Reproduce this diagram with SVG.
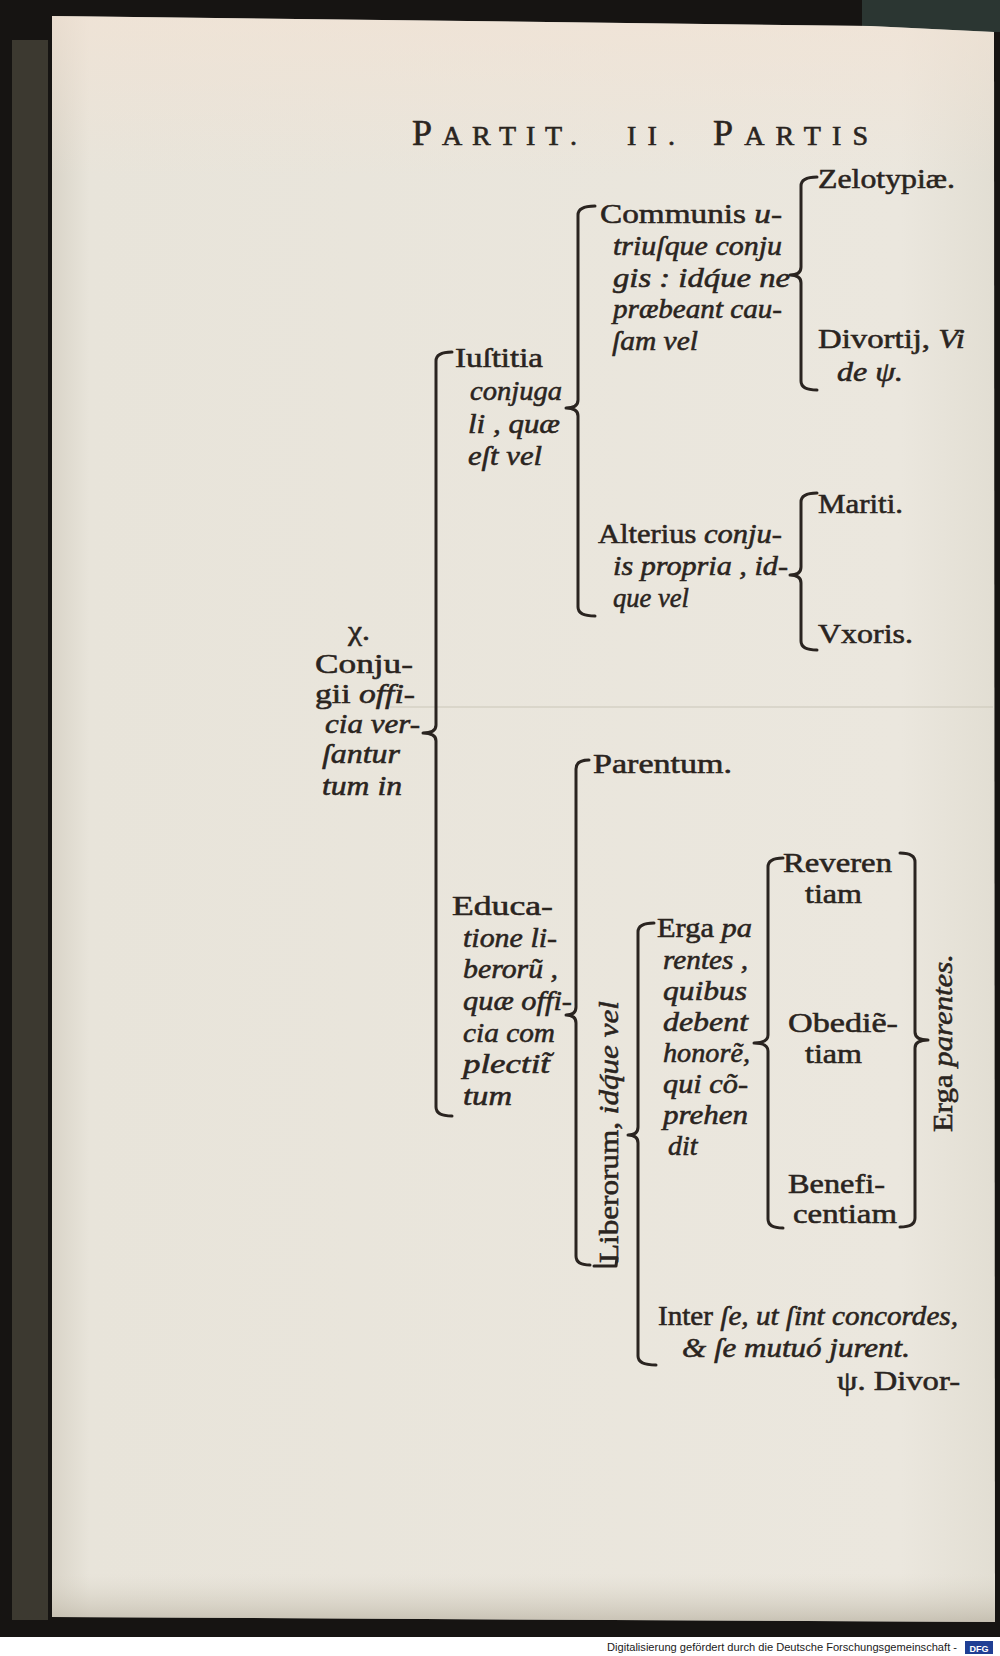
<svg xmlns="http://www.w3.org/2000/svg" width="1000" height="1656" viewBox="0 0 1000 1656">
<defs>
<style>
.t{font-family:"Liberation Serif",serif;font-size:28px;fill:#2a2420;stroke:#2a2420;stroke-width:0.55px}
.it{font-style:italic}
.ttl{font-family:"Liberation Serif",serif;font-size:28px;fill:#2a2420;stroke:#2a2420;stroke-width:0.6px}
.br{fill:none;stroke:#2a2420;stroke-width:3;stroke-linecap:round;stroke-linejoin:round}
.cap{font-family:"Liberation Sans",sans-serif;font-size:10.5px;fill:#1a1a1a}
</style>
<linearGradient id="pg" x1="0" y1="0" x2="1" y2="0">
<stop offset="0" stop-color="#d9d4c8"/>
<stop offset="0.04" stop-color="#e8e4da"/>
<stop offset="0.9" stop-color="#ebe7de"/>
<stop offset="1" stop-color="#e2ded3"/>
</linearGradient>
<linearGradient id="pgv" x1="0" y1="0" x2="0" y2="1">
<stop offset="0" stop-color="#f3e2d3" stop-opacity="0.6"/>
<stop offset="0.1" stop-color="#f3e2d3" stop-opacity="0"/>
<stop offset="0.97" stop-color="#d8d2c4" stop-opacity="0"/>
<stop offset="1" stop-color="#b9b2a2" stop-opacity="0.7"/>
</linearGradient>
</defs>

<!-- background / scan surroundings -->
<rect x="0" y="0" width="1000" height="1656" fill="#161412"/>
<rect x="12" y="40" width="36" height="1580" fill="#4a463b" opacity="0.75"/>
<rect x="862" y="0" width="138" height="32" fill="#2b3632"/>
<polygon points="52,16 870,26 994,32 995,1622 52,1617" fill="url(#pg)"/>
<polygon points="52,16 870,26 994,32 995,1622 52,1617" fill="url(#pgv)"/>
<line x1="390" y1="707" x2="993" y2="707" stroke="#cdc8bb" stroke-width="1.5" opacity="0.7"/>
<rect x="0" y="1637" width="1000" height="19" fill="#ffffff"/>

<!-- header -->
<g id="title">
<text class="ttl" x="412" y="145" textLength="165" lengthAdjust="spacing"><tspan font-size="36">P</tspan>ARTIT.</text>
<text class="ttl" x="627" y="145" font-size="36" textLength="48" lengthAdjust="spacing">II.</text>
<text class="ttl" x="713" y="145" textLength="155" lengthAdjust="spacing"><tspan font-size="36">P</tspan>ARTIS</text>
</g>

<!-- connectors (braces) -->
<g id="connectors">
<path id="brace-conjugii" class="br" d="M452 352 Q436 352 436 361 L436 725 Q436 733 423 733 Q436 733 436 741 L436 1107 Q436 1116 452 1116"/>
<path id="brace-iustitia" class="br" d="M595 206 Q578 206 578 215 L578 400 Q578 408 566 408 Q578 408 578 416 L578 607 Q578 616 595 616"/>
<path id="brace-communis" class="br" d="M817 177 Q801 177 801 186 L801 267 Q801 275 790 275 Q801 275 801 283 L801 381 Q801 390 817 390"/>
<path id="brace-alterius" class="br" d="M817 493 Q801 493 801 502 L801 567 Q801 575 790 575 Q801 575 801 583 L801 641 Q801 650 817 650"/>
<path id="brace-educatione" class="br" d="M589 760 Q576 760 576 769 L576 1007 Q576 1015 566 1015 Q576 1015 576 1023 L576 1256 Q576 1265 590 1265"/>
<path class="br" d="M594 1266 L616 1266 L617 1258"/>
<path id="brace-liberorum" class="br" d="M654 923 Q638 923 638 932 L638 1127 Q638 1135 628 1135 Q638 1135 638 1143 L638 1356 Q638 1365 656 1365"/>
<path id="brace-erga" class="br" d="M783 858 Q768 858 768 867 L768 1035 Q768 1043 754 1043 Q768 1043 768 1051 L768 1219 Q768 1228 783 1228"/>
<path id="brace-erga-parentes" class="br" d="M900 853 Q915 853 915 862 L915 1032 Q915 1040 928 1040 Q915 1040 915 1048 L915 1218 Q915 1227 900 1227"/>
</g>

<g id="n-conjugii">
<text class="t" x="348" y="640" font-size="25" textLength="22" lengthAdjust="spacingAndGlyphs">χ.</text>
<text class="t" x="315" y="673" textLength="98" lengthAdjust="spacingAndGlyphs">Conju-</text>
<text class="t" x="315" y="703" textLength="100" lengthAdjust="spacingAndGlyphs">gii <tspan class="it">offi-</tspan></text>
<text class="t it" x="325" y="733" textLength="95" lengthAdjust="spacingAndGlyphs">cia ver-</text>
<text class="t it" x="322" y="763" textLength="78" lengthAdjust="spacingAndGlyphs">ſantur</text>
<text class="t it" x="322" y="795" textLength="80" lengthAdjust="spacingAndGlyphs">tum in</text>
</g>

<g id="n-iustitia">
<text class="t" x="455" y="367" textLength="88" lengthAdjust="spacingAndGlyphs">Iuſtitia</text>
<text class="t it" x="470" y="400" textLength="92" lengthAdjust="spacingAndGlyphs">conjuga</text>
<text class="t it" x="468" y="433" textLength="92" lengthAdjust="spacingAndGlyphs">li , quæ</text>
<text class="t it" x="468" y="465" textLength="74" lengthAdjust="spacingAndGlyphs">eſt vel</text>
</g>

<g id="n-communis">
<text class="t" x="600" y="223" textLength="182" lengthAdjust="spacingAndGlyphs">Communis <tspan class="it">u-</tspan></text>
<text class="t it" x="613" y="255" textLength="169" lengthAdjust="spacingAndGlyphs">triuſque conju</text>
<text class="t it" x="613" y="287" textLength="177" lengthAdjust="spacingAndGlyphs">gis : idq́ue ne</text>
<text class="t it" x="613" y="318" textLength="169" lengthAdjust="spacingAndGlyphs">præbeant cau-</text>
<text class="t it" x="612" y="350" textLength="86" lengthAdjust="spacingAndGlyphs">ſam vel</text>
</g>

<g id="n-zelotypiae">
<text class="t" x="818" y="188" textLength="137" lengthAdjust="spacingAndGlyphs">Zelotypiæ.</text>
</g>

<g id="n-divortij">
<text class="t" x="818" y="348" textLength="147" lengthAdjust="spacingAndGlyphs">Divortij, <tspan class="it">Vi</tspan></text>
<text class="t it" x="837" y="381" textLength="66" lengthAdjust="spacingAndGlyphs">de ψ.</text>
</g>

<g id="n-alterius">
<text class="t" x="598" y="543" textLength="184" lengthAdjust="spacingAndGlyphs">Alterius <tspan class="it">conju-</tspan></text>
<text class="t it" x="613" y="575" textLength="175" lengthAdjust="spacingAndGlyphs">is propria , id-</text>
<text class="t it" x="613" y="607" textLength="76" lengthAdjust="spacingAndGlyphs">que vel</text>
</g>

<g id="n-mariti">
<text class="t" x="818" y="513" textLength="85" lengthAdjust="spacingAndGlyphs">Mariti.</text>
</g>

<g id="n-vxoris">
<text class="t" x="818" y="643" textLength="95" lengthAdjust="spacingAndGlyphs">Vxoris.</text>
</g>

<g id="n-educatione">
<text class="t" x="452" y="915" textLength="101" lengthAdjust="spacingAndGlyphs">Educa-</text>
<text class="t it" x="463" y="947" textLength="94" lengthAdjust="spacingAndGlyphs">tione li-</text>
<text class="t it" x="463" y="978" textLength="95" lengthAdjust="spacingAndGlyphs">berorũ ,</text>
<text class="t it" x="463" y="1010" textLength="109" lengthAdjust="spacingAndGlyphs">quæ offi-</text>
<text class="t it" x="463" y="1042" textLength="92" lengthAdjust="spacingAndGlyphs">cia com</text>
<text class="t it" x="463" y="1073" textLength="87" lengthAdjust="spacingAndGlyphs">plectit̃</text>
<text class="t it" x="463" y="1105" textLength="49" lengthAdjust="spacingAndGlyphs">tum</text>
</g>

<g id="n-parentum">
<text class="t" x="593" y="773" textLength="139" lengthAdjust="spacingAndGlyphs">Parentum.</text>
</g>

<g id="n-liberorum">
<text class="t" transform="translate(618,1263) rotate(-90)" x="0" y="0" textLength="262" lengthAdjust="spacingAndGlyphs">Liberorum, <tspan class="it">idq́ue vel</tspan></text>
</g>

<g id="n-erga">
<text class="t" x="657" y="937" textLength="95" lengthAdjust="spacingAndGlyphs">Erga <tspan class="it">pa</tspan></text>
<text class="t it" x="663" y="969" textLength="85" lengthAdjust="spacingAndGlyphs">rentes ,</text>
<text class="t it" x="663" y="1000" textLength="84" lengthAdjust="spacingAndGlyphs">quibus</text>
<text class="t it" x="663" y="1031" textLength="85" lengthAdjust="spacingAndGlyphs">debent</text>
<text class="t it" x="663" y="1062" textLength="87" lengthAdjust="spacingAndGlyphs">honorẽ,</text>
<text class="t it" x="663" y="1093" textLength="85" lengthAdjust="spacingAndGlyphs">qui cõ-</text>
<text class="t it" x="663" y="1124" textLength="85" lengthAdjust="spacingAndGlyphs">prehen</text>
<text class="t it" x="668" y="1155">dit</text>
</g>

<g id="n-reverentiam">
<text class="t" x="783" y="872" textLength="109" lengthAdjust="spacingAndGlyphs">Reveren</text>
<text class="t" x="805" y="903" textLength="57" lengthAdjust="spacingAndGlyphs">tiam</text>
</g>

<g id="n-obedientiam">
<text class="t" x="788" y="1032" textLength="110" lengthAdjust="spacingAndGlyphs">Obediẽ-</text>
<text class="t" x="805" y="1063" textLength="57" lengthAdjust="spacingAndGlyphs">tiam</text>
</g>

<g id="n-beneficentiam">
<text class="t" x="788" y="1193" textLength="97" lengthAdjust="spacingAndGlyphs">Benefi-</text>
<text class="t" x="793" y="1223" textLength="104" lengthAdjust="spacingAndGlyphs">centiam</text>
</g>

<g id="n-erga-parentes">
<text class="t" transform="translate(952,1132) rotate(-90)" x="0" y="0" textLength="178" lengthAdjust="spacingAndGlyphs">Erga <tspan class="it">parentes.</tspan></text>
</g>

<g id="n-inter-se">
<text class="t" x="658" y="1325" textLength="300" lengthAdjust="spacingAndGlyphs">Inter <tspan class="it">ſe, ut ſint concordes,</tspan></text>
<text class="t it" x="682" y="1357" textLength="228" lengthAdjust="spacingAndGlyphs">&amp; ſe mutuó jurent.</text>
</g>

<g id="catchword">
<text class="t" x="837" y="1390" textLength="123" lengthAdjust="spacingAndGlyphs">ψ. Divor-</text>
</g>

<g id="credit">
<text class="cap" x="607" y="1651" textLength="350" lengthAdjust="spacingAndGlyphs">Digitalisierung gefördert durch die Deutsche Forschungsgemeinschaft -</text>
<rect x="965" y="1641" width="28" height="13" fill="#1f3f94"/>
<text x="979" y="1652" font-family="Liberation Sans,sans-serif" font-size="9" font-weight="bold" fill="#ffffff" text-anchor="middle">DFG</text>
</g>
</svg>
